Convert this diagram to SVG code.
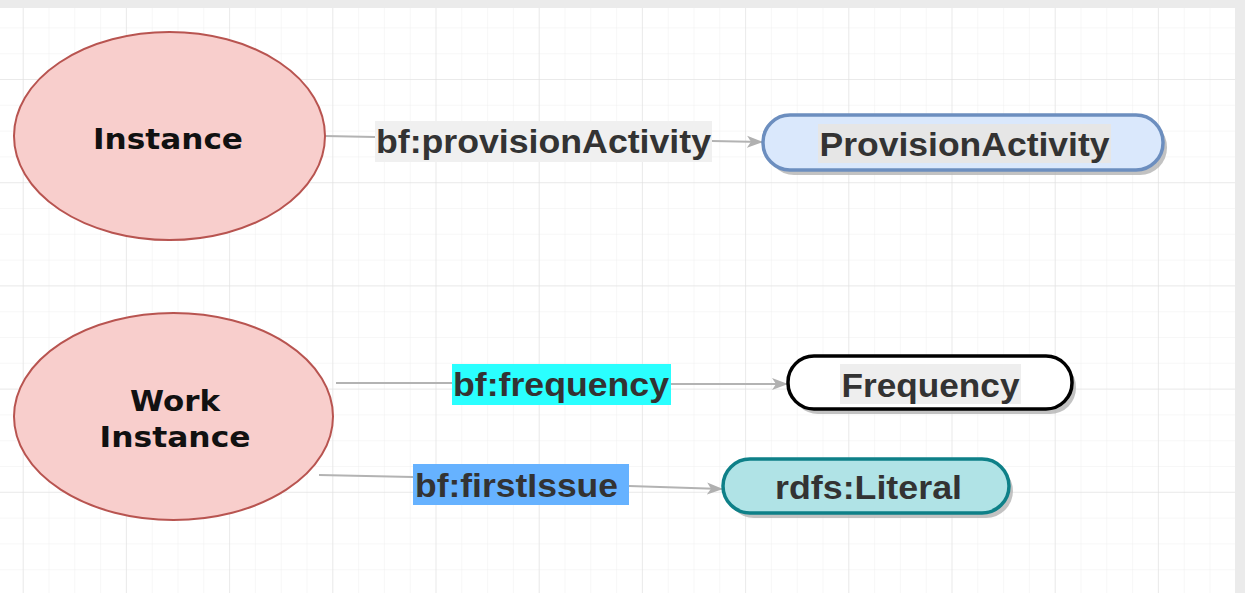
<svg xmlns="http://www.w3.org/2000/svg" width="1245" height="593" viewBox="0 0 1245 593">
  <defs>
    <pattern id="minor" patternUnits="userSpaceOnUse" x="22.7" y="79" width="25.8" height="25.8">
      <path d="M0 0H25.8M0 0V25.8" fill="none" stroke="#efefef" stroke-width="1"/>
    </pattern>
    <pattern id="major" patternUnits="userSpaceOnUse" x="22.7" y="79" width="103.2" height="103.2">
      <path d="M0 0H103.2M0 0V103.2" fill="none" stroke="#dedede" stroke-width="1"/>
    </pattern>
    <marker id="arr" viewBox="0 0 16 14" refX="15" refY="7" markerWidth="16" markerHeight="14" markerUnits="userSpaceOnUse" orient="auto">
      <path d="M0 1 L16 7 L0 13 L4 7 Z" fill="#b0b0b0"/>
    </marker>
    <style>
      .ell { fill: #f8cecc; stroke: #b85450; stroke-width: 2; }
      .ntxt { font-family: "DejaVu Sans", sans-serif; font-weight: bold; font-size: 29px; fill: #111; text-anchor: middle; }
      .lbl { font-family: "Liberation Sans", Arial, sans-serif; font-weight: bold; font-size: 34px; fill: #333333; }
      .edge { fill: none; stroke: #b3b3b3; stroke-width: 2; marker-end: url(#arr); }
      .shadow { fill: #b3b3b3; opacity: 0.8; }
    </style>
  </defs>

  <rect x="0" y="0" width="1245" height="593" fill="#ebebeb"/>
  <rect x="0" y="8" width="1235" height="585" fill="#ffffff"/>
  <rect x="0" y="8" width="1235" height="585" fill="url(#minor)"/>
  <rect x="0" y="8" width="1235" height="585" fill="url(#major)"/>

  <g id="connectors">
    <g id="e-provision">
      <path class="edge" d="M325 136 L375 137 M712 141 L762 142"/>
      <rect x="375" y="121" width="337" height="41" fill="#f0f0f0"/>
      <text class="lbl" x="376" y="153" textLength="335" lengthAdjust="spacingAndGlyphs">bf:provisionActivity</text>
    </g>
    <g id="e-frequency">
      <path class="edge" d="M336 383 L452 383 M671 384 L787 384"/>
      <rect x="452" y="364" width="219" height="41" fill="#2affff"/>
      <text class="lbl" x="453" y="396" textLength="216" lengthAdjust="spacingAndGlyphs">bf:frequency</text>
    </g>
    <g id="e-firstissue">
      <path class="edge" d="M319 475 L413 477 M629 486 L722 489"/>
      <rect x="413" y="464" width="216" height="41" fill="#66b2ff"/>
      <text class="lbl" x="415" y="497" textLength="203" lengthAdjust="spacingAndGlyphs">bf:firstIssue</text>
    </g>
  </g>

  <g id="n-instance">
    <ellipse class="ell" cx="169.5" cy="136" rx="155.5" ry="104"/>
    <text class="ntxt" x="168" y="149" textLength="150" lengthAdjust="spacingAndGlyphs">Instance</text>
  </g>

  <g id="n-work-instance">
    <ellipse class="ell" cx="173.5" cy="416.5" rx="159.5" ry="103.5"/>
    <text class="ntxt" x="175" y="411" textLength="90" lengthAdjust="spacingAndGlyphs">Work</text>
    <text class="ntxt" x="175" y="447" textLength="151" lengthAdjust="spacingAndGlyphs">Instance</text>
  </g>

  <g id="n-provisionactivity">
    <rect class="shadow" x="767" y="120" width="400" height="55" rx="27" ry="27"/>
    <rect x="763" y="115" width="400" height="55" rx="27" ry="27" fill="#dae8fc" stroke="#6c8ebf" stroke-width="3.5"/>
    <rect x="818" y="124" width="293" height="39" fill="#e6e6e6"/>
    <text class="lbl" x="964.5" y="156" text-anchor="middle" textLength="290" lengthAdjust="spacingAndGlyphs">ProvisionActivity</text>
  </g>

  <g id="n-frequency">
    <rect class="shadow" x="792" y="361" width="284" height="53" rx="26" ry="26"/>
    <rect x="788" y="356" width="284" height="53" rx="26" ry="26" fill="#ffffff" stroke="#000000" stroke-width="3.5"/>
    <rect x="840" y="364" width="181" height="40" fill="#eeeeee"/>
    <text class="lbl" x="930.5" y="397" text-anchor="middle" textLength="178" lengthAdjust="spacingAndGlyphs">Frequency</text>
  </g>

  <g id="n-literal">
    <rect class="shadow" x="727" y="464" width="286" height="54" rx="27" ry="27"/>
    <rect x="723" y="459" width="286" height="54" rx="27" ry="27" fill="#b0e3e6" stroke="#0e8088" stroke-width="3.5"/>
    <text class="lbl" x="868.5" y="499" text-anchor="middle" textLength="187" lengthAdjust="spacingAndGlyphs">rdfs:Literal</text>
  </g>
</svg>
